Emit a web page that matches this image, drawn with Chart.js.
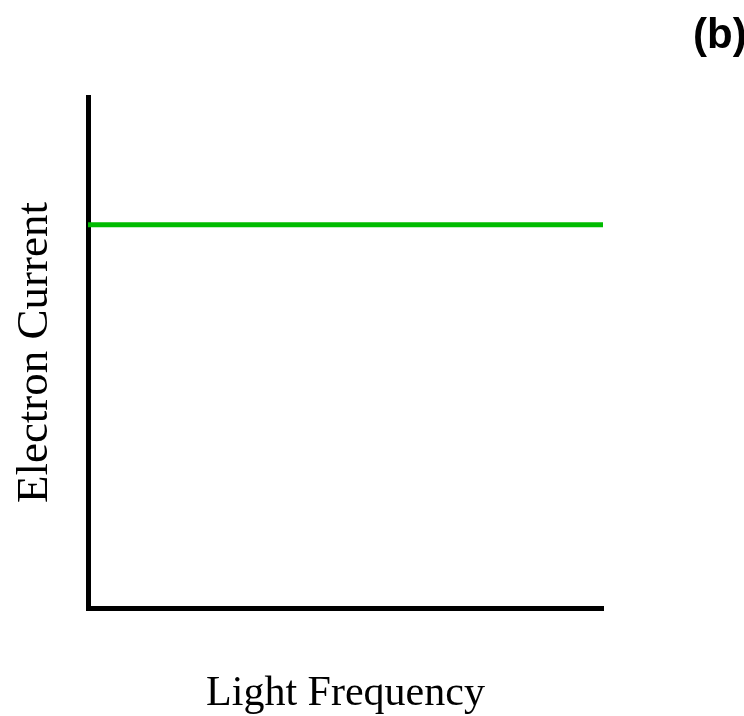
<!DOCTYPE html>
<html>
<head>
<meta charset="utf-8">
<script src="https://cdn.jsdelivr.net/npm/chart.js@4/dist/chart.umd.min.js"></script>
<style>
  html, body { margin: 0; padding: 0; background: #fff; }
  #wrap { width: 744px; height: 716px; position: relative; }
</style>
</head>
<body>
<div id="wrap"><canvas id="chart"></canvas></div>
<script>
// Data
const frequency = [0, 10];
const current = [7.5, 7.5];
const xLabel = 'Light Frequency';
const yLabel = 'Electron Current';
const panelTag = '(b)';

// Panel tag in the top right corner
const tagPlugin = {
    id: 'panelTag',
    afterDraw(chart) {
        const ctx = chart.ctx;
        ctx.save();
        ctx.font = 'bold 42px "Liberation Sans", Arial, sans-serif';
        ctx.fillStyle = '#000';
        ctx.textBaseline = 'alphabetic';
        ctx.fillText(panelTag, 693, 48);
        ctx.restore();
    }
};

const serifFamily = '"Liberation Serif", "Times New Roman", serif';

new Chart(document.getElementById('chart'), {
    type: 'line',
    data: {
        datasets: [{
            data: frequency.map((f, i) => ({ x: f, y: current[i] })),
            borderColor: '#00bb00',
            borderWidth: 5,
            pointRadius: 0,
            fill: false
        }]
    },
    options: {
        responsive: true,
        maintainAspectRatio: false,
        animation: false,
        layout: { padding: { top: 97, right: 141, bottom: 0, left: 0 } },
        plugins: { legend: { display: false }, tooltip: { enabled: false } },
        scales: {
            x: {
                type: 'linear', min: 0, max: 10,
                grid: { display: false },
                border: { display: true, color: '#000', width: 5 },
                ticks: { display: false },
                title: {
                    display: true, text: xLabel, color: '#000',
                    font: { family: serifFamily, size: 42, lineHeight: 1 },
                    padding: { top: 57, bottom: 1 }
                }
            },
            y: {
                min: 0, max: 10,
                grid: { display: false },
                border: { display: true, color: '#000', width: 5 },
                ticks: { display: false },
                title: {
                    display: true, text: yLabel, color: '#000',
                    font: { family: serifFamily, size: 45, lineHeight: 1 },
                    padding: { top: 13, bottom: 22 }
                }
            }
        }
    },
    plugins: [tagPlugin]
});
</script>
</body>
</html>
